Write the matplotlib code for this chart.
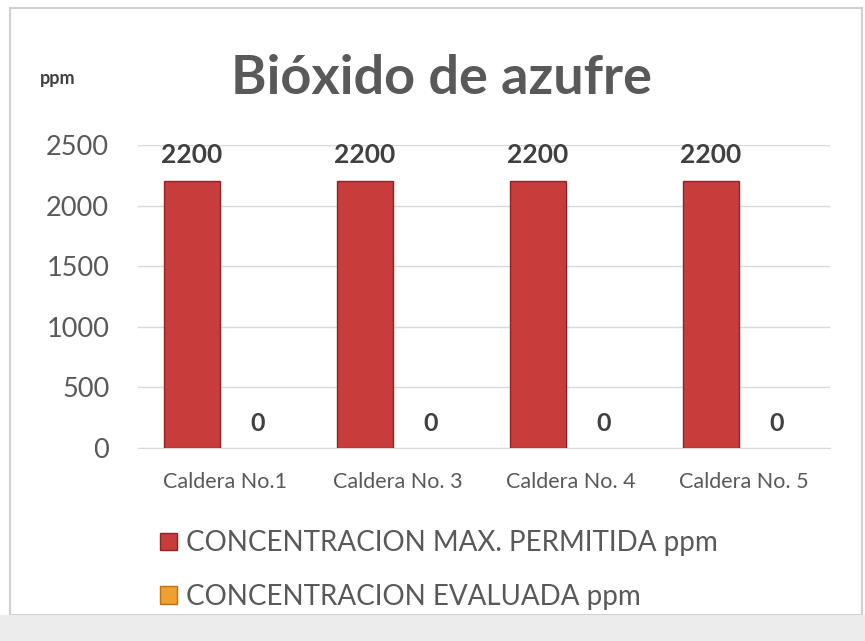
import numpy as np
import matplotlib.pyplot as plt
from matplotlib.patches import Rectangle

# Data
categories = ["Caldera No.1", "Caldera No. 3", "Caldera No. 4", "Caldera No. 5"]
max_permitida = [2200, 2200, 2200, 2200]
evaluada = [0, 0, 0, 0]
series_names = ["CONCENTRACION MAX. PERMITIDA ppm", "CONCENTRACION EVALUADA ppm"]

plt.rcParams['font.family'] = ['Lato', 'DejaVu Sans']
gray = "#595959"

fig = plt.figure(figsize=(8.65, 6.41), dpi=100)
fig.patch.set_facecolor("white")

# light frame around the chart
fig.add_artist(Rectangle((0.012, 0.04), 0.985, 0.948, transform=fig.transFigure,
                         fill=False, edgecolor="#d0d0d0", linewidth=1.5))
fig.add_artist(Rectangle((0.0, 0.0), 1.0, 0.04, transform=fig.transFigure,
                         facecolor="#ececec", edgecolor="none"))

ax = fig.add_axes([0.160, 0.301, 0.800, 0.473])

x = np.arange(len(categories))
w = 0.32
off = 0.19
b1 = ax.bar(x - off, max_permitida, w, color="#c83c3c", edgecolor="#8e2424",
            linewidth=1.0, label=series_names[0], zorder=3)
b2 = ax.bar(x + off, evaluada, w, color="#f0a030", edgecolor="#c07010",
            linewidth=0, label=series_names[1], zorder=3)

for i in range(len(categories)):
    ax.text(x[i] - off, max_permitida[i] + 115, str(max_permitida[i]), ha="center",
            va="bottom", fontsize=19, fontweight="bold", color="#404040")
    ax.text(x[i] + off, evaluada[i] + 105, str(evaluada[i]), ha="center",
            va="bottom", fontsize=18, fontweight="bold", color="#404040")

ax.set_xlim(-0.5, len(categories) - 0.5)
ax.set_ylim(0, 2500)
ax.set_yticks(range(0, 2501, 500))
ax.yaxis.grid(True, color="#d9d9d9", linewidth=1.0, zorder=0)
ax.set_axisbelow(True)
for s in ["top", "right", "left"]:
    ax.spines[s].set_visible(False)
ax.spines["bottom"].set_color("#d9d9d9")
ax.tick_params(axis="both", length=0, colors=gray)
ax.tick_params(axis="y", labelsize=19.5, pad=21)
ax.tick_params(axis="x", labelsize=15.5, pad=17)
ax.set_xticks(x)
ax.set_xticklabels(categories)

fig.text(0.51, 0.878, "Bióxido de azufre", ha="center", va="center",
         fontsize=39, fontweight="bold", color=gray)
fig.text(0.046, 0.878, "ppm", ha="left", va="center", fontsize=13,
         fontweight="bold", color="#404040")

leg = fig.legend(handles=[b1, b2], loc="upper left", bbox_to_anchor=(0.172, 0.19),
                 frameon=False, fontsize=20, handlelength=0.6, handleheight=0.6,
                 handletextpad=0.35, labelspacing=1.0, labelcolor=gray,
                 borderaxespad=0)
for h in leg.legend_handles:
    h.set_linewidth(1.0)

plt.savefig("out.png", dpi=100)
